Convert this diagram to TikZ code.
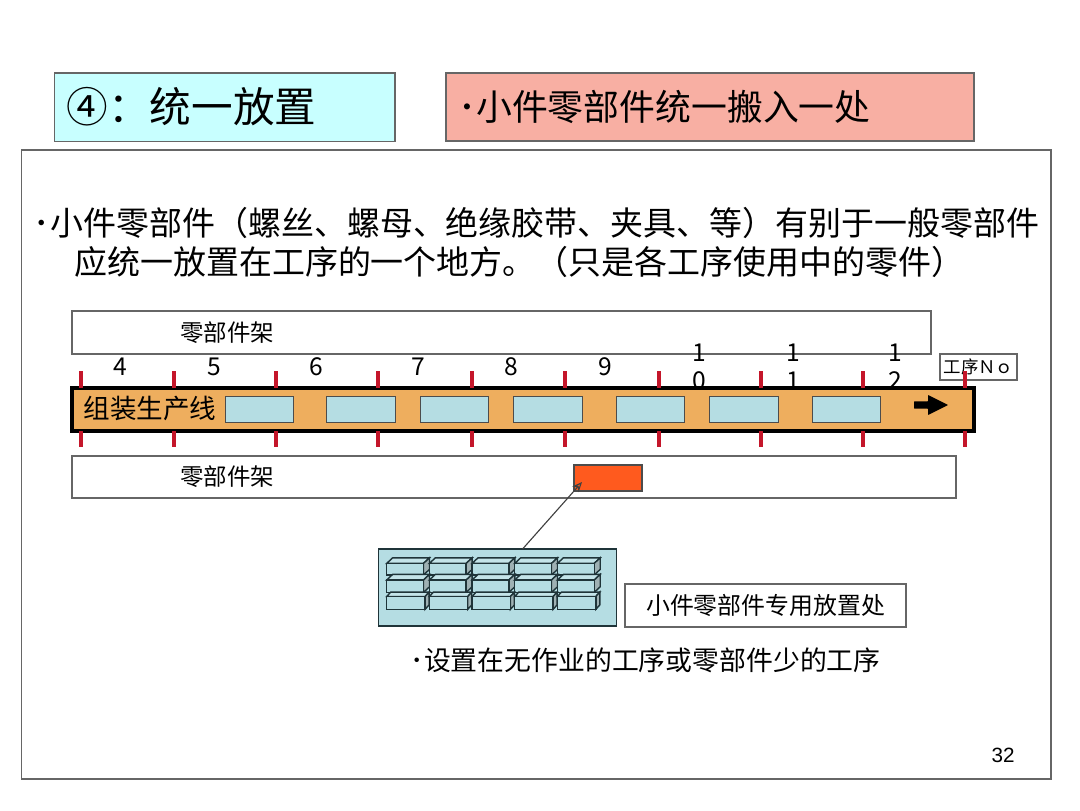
\documentclass[tikz,border=0pt]{standalone}
\usepackage{fontspec}
\setmainfont{Noto Sans CJK SC}
\newfontfamily\pagefont{Liberation Sans}
\usetikzlibrary{arrows.meta}

\definecolor{headcyan}{HTML}{C8FFFF}
\definecolor{headpink}{HTML}{F8AFA3}
\definecolor{lineorange}{HTML}{EEAE5E}
\definecolor{stationblue}{HTML}{B5DDE3}
\definecolor{partred}{HTML}{FF5A1E}
\definecolor{tickred}{HTML}{C4162A}
\definecolor{boxedge}{HTML}{1F3439}

\tikzset{
    boxnode/.style={draw=black!60, line width=0.9pt, outer sep=0pt, inner sep=0pt},
    station/.style={draw=black!70, line width=0.9pt, fill=stationblue, outer sep=0pt,
        minimum width=1.71cm, minimum height=0.65cm},
    rednum/.style={draw=tickred, line width=2.6pt},
    numlabel/.style={font=\fontsize{17.5}{19.85}\selectfont, align=center, inner sep=0pt},
    racklabel/.style={font=\fontsize{16.7}{20}\selectfont, inner sep=0pt},
    binline/.style={draw=boxedge, line width=1pt}
}

\begin{document}
\begin{tikzpicture}
    \useasboundingbox (0,0) rectangle (27,20.25);

    % Header boxes
    \node[boxnode, fill=headcyan, minimum width=8.51cm, minimum height=1.71cm] (headbox) at (5.62,17.57) {};
    \node[boxnode, fill=headpink, minimum width=13.2cm, minimum height=1.7cm] (titlebox) at (17.75,17.575) {};
    \node[anchor=west, inner sep=0pt, font=\fontsize{29.6}{34}\selectfont] (headtext) at (1.66,17.575) {④：统一放置};
    \node[anchor=west, inner sep=0pt, font=\fontsize{25.5}{30}\selectfont] (titletext) at (11.45,17.575) {･小件零部件统一搬入一处};

    % Outer frame
    \draw[black!60, line width=0.9pt] (0.5375,0.775) rectangle (26.275,16.5);

    % Body text
    \node[anchor=west, inner sep=0pt, font=\fontsize{23.45}{28}\selectfont] (bodyone) at (0.84,14.68) {･小件零部件（螺丝、螺母、绝缘胶带、夹具、等）有别于一般零部件};
    \node[anchor=west, inner sep=0pt, font=\fontsize{23.45}{28}\selectfont] (bodytwo) at (1.85,13.705) {应统一放置在工序的一个地方。（只是各工序使用中的零件）};

    % Parts racks
    \node[boxnode, minimum width=21.475cm, minimum height=1.075cm] (rackup) at (12.54,11.94) {};
    \node[boxnode, minimum width=22.1cm, minimum height=1.05cm] (racklow) at (12.85,8.325) {};
    \node[racklabel] (rackuptext) at (5.68,11.94) {零部件架};
    \node[racklabel] (racklowtext) at (5.68,8.325) {零部件架};

    % Process numbers
    \foreach \xnum/\num in {3.0/4, 5.35/5, 7.9/6, 10.45/7, 12.775/8, 15.125/9}
        \node[numlabel] (num\num) at (\xnum,11.075) {\num};
    \node[numlabel] (numten) at (17.475,11.075) {1\\0};
    \node[numlabel] (numeleven) at (19.825,11.075) {1\\1};
    \node[numlabel] (numtwelve) at (22.375,11.075) {1\\2};
    \node[boxnode, fill=white, minimum width=1.925cm, minimum height=0.65cm, font=\fontsize{12.4}{15}\selectfont] (nobox) at (24.4625,11.075) {工序Ｎｏ};

    % Assembly line
    \node[draw=black, line width=2.8pt, fill=lineorange, outer sep=0pt, minimum width=22.55cm, minimum height=1.075cm] (asmline) at (13.075,10.0125) {};
    \node[anchor=west, inner sep=0pt, font=\fontsize{18.9}{22}\selectfont] (asmtext) at (2.08,10.03) {组装生产线};
    \foreach \xst in {6.49, 9.025, 11.36, 13.7, 16.26, 18.6, 21.16}
        \node[station] (st\xst) at (\xst,10.0125) {};
    \fill[black, rounded corners=0.3pt] (22.85,10.215) -- (23.2,10.215) -- (23.2,10.375) -- (23.7,10.125) -- (23.2,9.875) -- (23.2,10.035) -- (22.85,10.035) -- cycle;

    % Ticks
    \foreach \xt in {2.025, 4.35, 6.9, 9.45, 11.8, 14.125, 16.475, 19.025, 21.575, 24.125} {
        \draw[rednum] (\xt,10.975) -- (\xt,10.55);
        \draw[rednum] (\xt,9.475) -- (\xt,9.075);
    }

    % Small parts place
    \node[draw=black!70, line width=0.9pt, fill=partred, outer sep=0pt, minimum width=1.7cm, minimum height=0.65cm] (partbox) at (15.2,8.3) {};
    \node[draw=boxedge, line width=0.9pt, fill=stationblue, outer sep=0pt, minimum width=5.96cm, minimum height=1.925cm] (store) at (12.44,5.56) {};
    \draw[-{Stealth[open,length=7pt,width=6pt]}, black!75, line width=0.8pt] ([xshift=17.7pt]store.north) -- ([xshift=5.7pt,yshift=6.4pt]partbox.south west);

    % Parts bins, top row first
    \foreach \yb/\wb/\hb/\db/\ub in {5.875/0.92/0.29/0.15/0.14, 5.44/0.92/0.31/0.15/0.14, 5.017/0.96/0.32/0.1/0.11}
        \foreach \col in {0,...,4} {
            \pgfmathsetmacro{\xb}{9.667+1.067*\col}
            \draw[binline, fill=stationblue!80!white] (\xb,\yb+\hb) -- ++(\db,\ub) -- ++(\wb,0) -- ++(-\db,-\ub) -- cycle;
            \draw[binline, fill=stationblue!65!black!70] (\xb+\wb,\yb) -- ++(\db,\ub) -- ++(0,\hb) -- ++(-\db,-\ub) -- cycle;
            \draw[binline, fill=stationblue] (\xb,\yb) rectangle ++(\wb,\hb);
        }

    \node[boxnode, minimum width=7.025cm, minimum height=1.075cm, font=\fontsize{17}{20}\selectfont] (storelabel) at (19.14,5.11) {小件零部件专用放置处};
    \node[anchor=west, inner sep=0pt, font=\fontsize{19.1}{23}\selectfont] (storenote) at (10.26,3.75) {･设置在无作业的工序或零部件少的工序};

    % Page number
    \node[font=\pagefont\fontsize{14.7}{17}\selectfont, inner sep=0pt] (pagenum) at (25.075,1.375) {32};
\end{tikzpicture}
\end{document}
